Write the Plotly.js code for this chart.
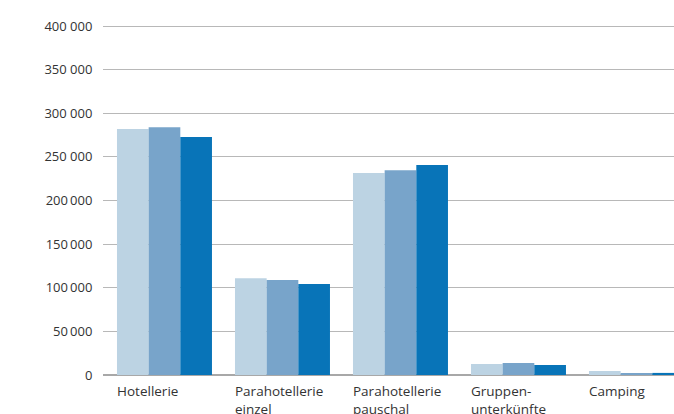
<!DOCTYPE html>
<html>
<head>
<meta charset="utf-8">
<script src="https://cdn.plot.ly/plotly-3.0.1.min.js"></script>
<style>html,body{margin:0;padding:0;background:#fff;}#chart{width:674px;height:414px;}</style>
</head>
<body>
<div id="chart"></div>
<script>
const categories = ["Hotellerie", "Parahotellerie<br>einzel", "Parahotellerie<br>pauschal", "Gruppen-<br>unterkünfte", "Camping"];
const series1 = [282000, 111000, 231500, 12600, 4600];
const series2 = [284000, 109000, 234700, 13800, 2400];
const series3 = [272800, 104300, 240800, 11500, 2400];
const seriesNames = ["Serie 1", "Serie 2", "Serie 3"];
const tickVals = [0, 50000, 100000, 150000, 200000, 250000, 300000, 350000, 400000];
const tickText = ["0", "50\u2009000", "100\u2009000", "150\u2009000", "200\u2009000", "250 000", "300 000", "350 000", "400 000"];

const colors = ["#bcd3e3", "#78a4ca", "#0874b8"];
const xs = categories.map((c, i) => i);
const allSeries = [series1, series2, series3];
const traces = allSeries.map((s, k) => ({
  type: "bar", x: xs, y: s, name: seriesNames[k],
  marker: {color: colors[k], line: {width: 0}},
  hoverinfo: "skip"
}));

const bargap = 0.195;
const annotations = categories.map((c, i) => ({
  x: i - (1 - bargap) / 2, y: 0, xref: "x", yref: "y",
  xanchor: "left", yanchor: "top", yshift: -5, xshift: -2, align: "left",
  text: c, showarrow: false,
  font: {family: "Open Sans, Noto Sans, sans-serif", size: 13.5, color: "#333"}
}));

const layout = {
  width: 674, height: 414,
  margin: {l: 103, r: 0, t: 24, b: 39, pad: 0},
  paper_bgcolor: "#fff", plot_bgcolor: "#fff",
  barmode: "group", bargap: bargap, bargroupgap: 0,
  showlegend: false,
  xaxis: {
    range: [-0.521, 4.318], showticklabels: false, showgrid: false,
    zeroline: false, showline: false, ticks: "", fixedrange: true
  },
  yaxis: {
    range: [0, 402300], tickvals: tickVals, ticktext: tickText,
    showgrid: true, gridcolor: "#b8b8b8", gridwidth: 1,
    zeroline: true, zerolinecolor: "#a8a8a8", zerolinewidth: 1.5,
    showline: false, ticks: "outside", ticklen: 7, tickcolor: "rgba(0,0,0,0)",
    tickfont: {family: "Open Sans, Noto Sans, sans-serif", size: 13, color: "#333"},
    fixedrange: true
  },
  annotations: annotations,
  font: {family: "Open Sans, Noto Sans, sans-serif"}
};

Plotly.newPlot("chart", traces, layout, {displayModeBar: false, staticPlot: true});
</script>
</body>
</html>
